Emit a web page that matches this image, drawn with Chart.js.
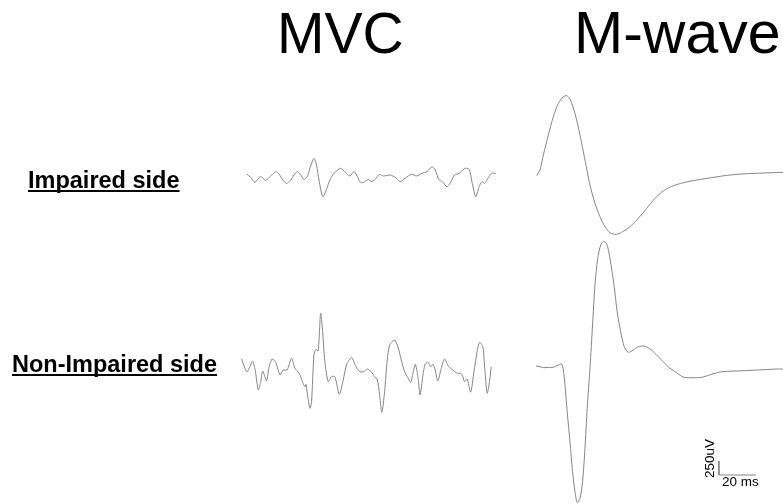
<!DOCTYPE html>
<html>
<head>
<meta charset="utf-8">
<script src="https://cdn.jsdelivr.net/npm/chart.js@4/dist/chart.umd.min.js"></script>
<style>
  html, body { margin: 0; padding: 0; background: #fff; }
  #emgChart { display: block; }
</style>
</head>
<body>
<canvas id="emgChart" width="783" height="504"></canvas>
<script>
// ---- data (time in ms from trace start, amplitude in uV from baseline) ----
const impairedMvcT = [0, 2.2, 4.5, 6.6, 7.9, 10.3, 13.0, 15.7, 17.5, 19.6, 21.6, 23.8, 25.6, 27.3, 28.8, 31.0, 32.8, 34.2, 36.4, 37.8, 39.1, 41.2, 43.2, 45.0, 47.2, 50.8, 53.5, 55.8, 58.0, 59.5, 61.2, 63.0, 64.3, 66.1, 67.3, 69.5, 71.7, 74.0, 77.6, 80.3, 83.0, 85.7, 89.0, 92.0, 94.8, 97.5, 100.2, 102.0, 103.8, 105.9, 108.2, 110.0, 112.4, 114.9, 118.2, 120.3, 121.8, 123.9, 125.7, 127.2, 128.6, 130.8, 132.6, 134.7];
const impairedMvcV = [54, -5, -95, -12, 5, -59, 18, 95, 54, -54, -113, -54, 36, 95, 54, -41, 5, 155, 334, 214, -54, -352, -220, -54, 66, 155, 77, 18, 95, 36, -84, -102, -71, -41, -84, -41, 48, 18, 36, -5, -84, -23, 48, 18, 66, 95, 184, 125, -41, -84, -173, -113, 36, 66, 155, 137, -84, -352, -173, -84, -113, -5, 66, 66];

const nonImpairedMvcT = [0, 1.8, 3.0, 4.5, 5.9, 7.2, 9.0, 10.3, 11.4, 12.6, 13.5, 14.9, 16.5, 18.5, 20.7, 22.5, 24.6, 27.0, 28.8, 31.1, 33.0, 34.2, 34.8, 35.5, 36.9, 37.8, 39.1, 40.2, 41.4, 42.7, 43.8, 45.0, 46.8, 48.6, 50.4, 52.8, 54.9, 56.8, 59.5, 61.8, 63.9, 66.1, 67.9, 70.0, 71.9, 73.3, 74.6, 75.8, 77.3, 78.7, 80.0, 81.2, 82.7, 84.5, 86.3, 88.1, 89.9, 91.4, 92.6, 93.9, 95.3, 96.5, 98.0, 99.2, 100.7, 102.2, 103.4, 104.6, 106.1, 107.9, 109.7, 111.9, 114.2, 116.5, 118.4, 119.6, 120.5, 121.9, 123.8, 125.6, 127.3, 128.6, 130.4, 131.3, 132.7, 134.0, 134.9];
const nonImpairedMvcV = [196, 30, -30, 59, 161, 30, -357, -209, -18, -120, -196, 59, 196, 137, -89, 0, 0, 209, 30, -59, -220, -298, -255, -416, -684, -566, 268, 370, 339, 1012, 684, 148, -209, -120, -120, -434, -179, 102, 220, 59, -30, -30, 18, -30, -120, -161, -446, -755, -387, 179, 446, 495, 536, 416, 179, -30, -138, -220, -59, 102, -120, -446, -89, 102, 137, 59, 102, 0, -196, 30, 196, 59, 0, -59, -59, -120, -209, -161, -398, -30, 327, 495, 416, 89, -416, -209, 59];

const impairedMwaveT = [0, 1.8, 3.6, 6.3, 9.0, 11.7, 14.4, 16.2, 18.0, 20.7, 23.4, 26.1, 28.8, 31.5, 34.2, 36.9, 39.6, 42.9, 45.9, 50.4, 54.9, 59.5, 63.9, 68.4, 73.0, 79.2, 86.5, 95.5, 104.5, 113.5, 122.5, 133.3];
const impairedMwaveV = [0, 102, 370, 727, 1054, 1293, 1411, 1429, 1370, 1114, 727, 280, -166, -493, -732, -911, -1018, -1046, -1011, -911, -761, -582, -404, -273, -189, -125, -77, -29, 13, 36, 48, 61];

const nonImpairedMwaveT = [0, 2.2, 4.3, 6.6, 9.4, 12.1, 13.9, 14.8, 15.7, 16.9, 18.4, 19.8, 21.1, 22.3, 23.8, 25.2, 26.5, 27.7, 29.2, 30.6, 31.9, 33.4, 35.0, 36.4, 38.2, 40.0, 42.2, 43.9, 45.8, 47.7, 49.9, 52.6, 55.3, 58.4, 61.2, 64.3, 67.9, 71.5, 76.0, 80.0, 85.0, 89.6, 95.0, 100.4, 108.5, 119.3, 130.1, 133.7];
const nonImpairedMwaveV = [9, -4, -21, -14, -14, 27, 45, -63, -330, -807, -1343, -1879, -2236, -2429, -2354, -2057, -1461, -746, -32, 741, 1455, 1932, 2170, 2229, 2200, 1932, 1455, 979, 621, 354, 254, 295, 354, 366, 325, 236, 116, -4, -111, -193, -200, -193, -139, -93, -80, -63, -45, -45];

// scale bar: 20 ms and 250 uV
const scaleBarMs = 20;
const scaleBarUv = 250;

// ---- layout ----
const MS_PER_PX = scaleBarMs / 37;
const UV_PER_PX = scaleBarUv / 14;
const X_MAX = 783 * MS_PER_PX;
const Y_MAX = 504 * UV_PER_PX;

// where each trace starts on the shared ms / uV plane
const origins = {
  impairedMvc: { x: 133.3, y: 5839 },
  nonImpairedMvc: { x: 130.6, y: 2393 },
  impairedMwave: { x: 290.1, y: 5862 },
  nonImpairedMwave: { x: 289.7, y: 2455 },
  scaleBar: { x: 388.6, y: 518 },
};

function toPoints(times, values, origin) {
  return times.map((t, i) => ({ x: origin.x + t, y: origin.y + values[i] }));
}

const traceColor = "#858585";

function trace(times, values, origin) {
  return {
    data: toPoints(times, values, origin),
    borderColor: traceColor,
    borderWidth: 1,
    pointRadius: 0,
    tension: 0.25,
    fill: false,
    clip: false,
  };
}

const scaleBar = {
  data: toPoints([0, 0, scaleBarMs], [scaleBarUv, 0, 0], origins.scaleBar),
  borderColor: traceColor,
  borderWidth: 1,
  pointRadius: 0,
  tension: 0,
  fill: false,
  clip: false,
};

//! texts drawn on the canvas
const texts = [
  { text: "MVC", x: 277, y: 53, font: '57px "Liberation Sans", Arial, sans-serif' },
  { text: "M-wave", x: 574, y: 53, font: '59px "Liberation Sans", Arial, sans-serif' },
  { text: "Impaired side", x: 28, y: 188, font: 'bold 23.5px "Liberation Sans", Arial, sans-serif', underline: true },
  { text: "Non-Impaired side", x: 12, y: 372, font: 'bold 23.5px "Liberation Sans", Arial, sans-serif', underline: true },
  { text: "20 ms", x: 722, y: 486, font: '13.5px "Liberation Sans", Arial, sans-serif' },
];

const textPlugin = {
  id: "figureText",
  afterDraw(chart) {
    const c = chart.ctx;
    c.save();
    c.fillStyle = "#000";
    c.textBaseline = "alphabetic";
    texts.forEach((t) => {
      c.font = t.font;
      c.textAlign = "left";
      c.fillText(t.text, t.x, t.y);
      if (t.underline) {
        const w = c.measureText(t.text).width;
        c.fillRect(t.x, t.y + 2, w, 2);
      }
    });
    // rotated unit label of the scale bar
    c.font = '13.5px "Liberation Sans", Arial, sans-serif';
    c.translate(714, 478);
    c.rotate(-Math.PI / 2);
    c.fillText(scaleBarUv + "uV", 0, 0);
    c.restore();
  },
};

new Chart(document.getElementById("emgChart").getContext("2d"), {
  type: "line",
  data: {
    datasets: [
      trace(impairedMvcT, impairedMvcV, origins.impairedMvc),
      trace(nonImpairedMvcT, nonImpairedMvcV, origins.nonImpairedMvc),
      trace(impairedMwaveT, impairedMwaveV, origins.impairedMwave),
      trace(nonImpairedMwaveT, nonImpairedMwaveV, origins.nonImpairedMwave),
      scaleBar,
    ],
  },
  options: {
    responsive: false,
    animation: false,
    layout: { padding: 0 },
    scales: {
      x: { type: "linear", min: 0, max: X_MAX, display: false },
      y: { type: "linear", min: 0, max: Y_MAX, display: false },
    },
    plugins: {
      legend: { display: false },
      tooltip: { enabled: false },
    },
  },
  plugins: [textPlugin],
});
</script>
</body>
</html>
